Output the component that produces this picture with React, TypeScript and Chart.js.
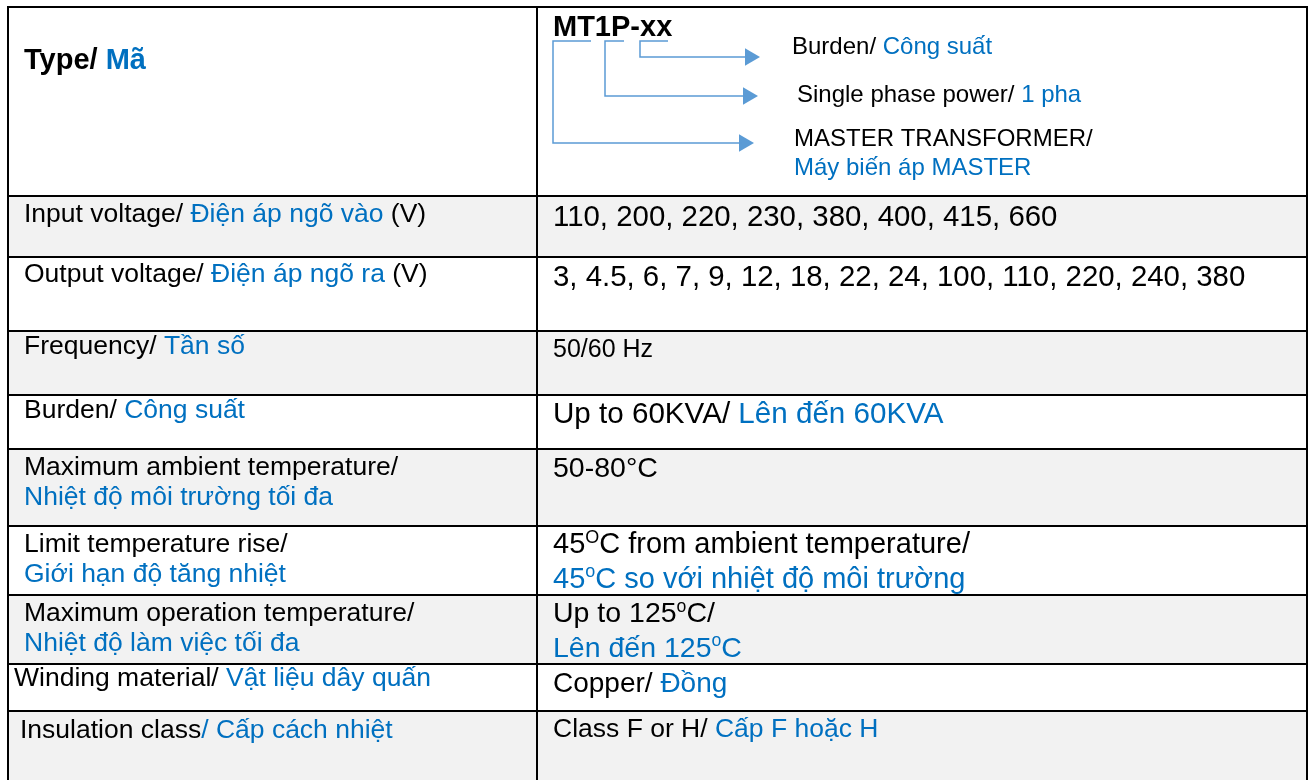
import React, { useEffect, useRef } from "react";
import { Chart, registerables } from "chart.js";

Chart.register(...registerables);

// ---------- content (markup: {…} = blue text, ^…^ = superscript) ----------
const typeLabel = "Type/ {Mã}";
const modelCode = "MT1P-xx";
const codeMeanings = [
  "Burden/ {Công suất}",
  "Single phase power/ {1 pha}",
  "MASTER TRANSFORMER/\n{Máy biến áp MASTER}",
];
const specNames = [
  "Input voltage/ {Điện áp ngõ vào} (V)",
  "Output voltage/ {Điện áp ngõ ra} (V)",
  "Frequency/ {Tần số}",
  "Burden/ {Công suất}",
  "Maximum ambient temperature/\n{Nhiệt độ môi trường tối đa}",
  "Limit temperature rise/\n{Giới hạn độ tăng nhiệt}",
  "Maximum operation temperature/\n{Nhiệt độ làm việc tối đa}",
  "Winding material/ {Vật liệu dây quấn}",
  "Insulation class{/ Cấp cách nhiệt}",
];
const specValues = [
  "110, 200, 220, 230, 380, 400, 415, 660",
  "3, 4.5, 6, 7, 9, 12, 18, 22, 24, 100, 110, 220, 240, 380",
  "50/60 Hz",
  "Up to 60KVA/ {Lên đến 60KVA}",
  "50-80°C",
  "45^O^C from ambient temperature/\n{45^o^C so với nhiệt độ môi trường}",
  "Up to 125^o^C/\n{Lên đến 125^o^C}",
  "Copper/ {Đồng}",
  "Class F or H/ {Cấp F hoặc H}",
];

// ---------- layout (table geometry in page pixels) ----------
const COL_EDGES = [8, 537, 1307];
const ROW_EDGES = [7, 196, 257, 331, 395, 449, 526, 595, 664, 711, 800];
const ROW_SHADED = [false, true, false, true, false, true, false, true, false, true];
const NAME_X = [24, 24, 24, 24, 24, 24, 24, 14, 20];
const NAME_BASE = [222, 282, 354, 418, 475, 552, 621, 686, 738];
const VALUE_BASE = [226, 286, 357, 423, 477, 553, 622, 692, 737];
const VALUE_FONT = [29.4, 29.4, 25, 29.6, 28.5, 29, 28.5, 28, 26.5];
const NAME_FONT = 26.5;
const BRACKET_Y = 41;
const BRACKETS = [
  { left: 553, right: 591, drop: 143, tip: 754 },
  { left: 605, right: 624, drop: 96, tip: 758 },
  { left: 640, right: 668, drop: 57, tip: 760 },
];
const MEANING_POS = [
  { x: 792, y: 54 },
  { x: 797, y: 102 },
  { x: 794, y: 146 },
];

const BLACK = "#000000";
const BLUE = "#0070C0";
const ARROW_BLUE = "#5B9BD5";
const SHADE = "#F2F2F2";
const FONT = '"Liberation Sans", Arial, Helvetica, sans-serif';

function drawRich(
  ctx: CanvasRenderingContext2D,
  text: string,
  x: number,
  y: number,
  size: number,
  bold: boolean
) {
  let blue = false;
  let sup = false;
  let cx = x;
  let buf = "";
  const flush = () => {
    if (!buf) return;
    const fs = sup ? size * 0.62 : size;
    ctx.font = `${bold ? "bold " : ""}${fs}px ${FONT}`;
    ctx.fillStyle = blue ? BLUE : BLACK;
    ctx.fillText(buf, cx, sup ? y - size * 0.36 : y);
    cx += ctx.measureText(buf).width;
    buf = "";
  };
  for (const ch of text) {
    if (ch === "{") {
      flush();
      blue = true;
    } else if (ch === "}") {
      flush();
      blue = false;
    } else if (ch === "^") {
      flush();
      sup = !sup;
    } else buf += ch;
  }
  flush();
}

const textPlugin = {
  id: "tableText",
  afterDatasetsDraw(chart: any) {
    const ctx: CanvasRenderingContext2D = chart.ctx;
    const sx = chart.scales.x;
    const sy = chart.scales.y;
    const px = (v: number) => sx.getPixelForValue(v);
    const py = (v: number) => sy.getPixelForValue(v);
    ctx.save();
    ctx.textAlign = "left";
    ctx.textBaseline = "alphabetic";
    drawRich(ctx, typeLabel, px(24), py(69), 29, true);
    drawRich(ctx, modelCode, px(553), py(36), 29, true);
    codeMeanings.forEach((t, i) => {
      t.split("\n").forEach((line, j) => {
        drawRich(ctx, line, px(MEANING_POS[i].x), py(MEANING_POS[i].y + j * 29), 24, false);
      });
    });
    specNames.forEach((t, i) => {
      t.split("\n").forEach((line, j) => {
        drawRich(ctx, line, px(NAME_X[i]), py(NAME_BASE[i] + j * 29.5), NAME_FONT, false);
      });
    });
    specValues.forEach((t, i) => {
      t.split("\n").forEach((line, j) => {
        drawRich(ctx, line, px(553), py(VALUE_BASE[i] + j * 34.5), VALUE_FONT[i], false);
      });
    });
    ctx.restore();
  },
};

export default function App() {
  const ref = useRef<HTMLCanvasElement | null>(null);
  useEffect(() => {
    if (!ref.current) return;
    const datasets: any[] = [];
    // row backgrounds + horizontal rules
    for (let i = 0; i < ROW_EDGES.length - 1; i++) {
      datasets.push({
        data: [
          { x: COL_EDGES[0], y: ROW_EDGES[i] },
          { x: COL_EDGES[2], y: ROW_EDGES[i] },
        ],
        fill: { value: ROW_EDGES[i + 1] },
        backgroundColor: ROW_SHADED[i] ? SHADE : "#FFFFFF",
        borderColor: BLACK,
        borderWidth: 2,
        borderCapStyle: "square",
        pointRadius: 0,
      });
    }
    // vertical rules
    COL_EDGES.forEach((cx) => {
      datasets.push({
        data: [
          { x: cx, y: ROW_EDGES[0] },
          { x: cx, y: ROW_EDGES[ROW_EDGES.length - 1] },
        ],
        fill: false,
        borderColor: BLACK,
        borderWidth: 2,
        borderCapStyle: "square",
        pointRadius: 0,
      });
    });
    // code connectors + arrow heads
    BRACKETS.forEach((b) => {
      datasets.push({
        data: [
          { x: b.right, y: BRACKET_Y },
          { x: b.left, y: BRACKET_Y },
          { x: b.left, y: b.drop },
          { x: b.tip - 12, y: b.drop },
        ],
        fill: false,
        borderColor: ARROW_BLUE,
        borderWidth: 1.5,
        pointRadius: 0,
      });
      datasets.push({
        data: [{ x: b.tip - 10, y: b.drop }],
        showLine: false,
        fill: false,
        pointStyle: "triangle",
        pointRotation: 90,
        pointRadius: 10,
        pointBackgroundColor: ARROW_BLUE,
        pointBorderWidth: 0,
        borderColor: ARROW_BLUE,
      });
    });

    const chart = new Chart(ref.current, {
      type: "line",
      data: { datasets },
      options: {
        animation: false,
        responsive: false,
        devicePixelRatio: 1,
        events: [],
        layout: { padding: 0, autoPadding: false },
        elements: { line: { tension: 0 } },
        scales: {
          x: { type: "linear", min: 0, max: 1312, display: false },
          y: { type: "linear", min: 0, max: 780, reverse: true, display: false },
        },
        plugins: {
          legend: { display: false },
          tooltip: { enabled: false },
          filler: { drawTime: "beforeDatasetsDraw" },
        },
      } as any,
      plugins: [textPlugin],
    });
    return () => chart.destroy();
  }, []);

  return (
    <div style={{ position: "fixed", left: 0, top: 0, width: 1312, height: 780, background: "#fff" }}>
      <canvas ref={ref} width={1312} height={780} style={{ display: "block", width: 1312, height: 780 }} />
    </div>
  );
}
